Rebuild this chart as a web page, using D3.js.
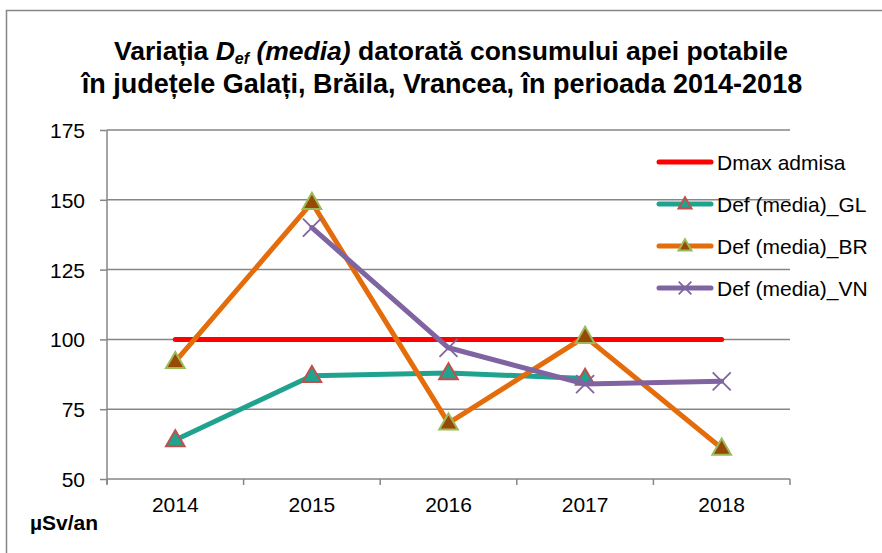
<!DOCTYPE html>
<html><head><meta charset="utf-8">
<script src="https://cdn.jsdelivr.net/npm/d3@7"></script>
<style>body{margin:0;background:#fff;} svg{display:block;font-family:"Liberation Sans",Arial,sans-serif;}</style>
</head><body>
<script>
const years = ["2014","2015","2016","2017","2018"];
const yTicks = [50,75,100,125,150,175];
const dmax = [100,100,100,100,100];
const defGL = [64,87,88,86,null];
const defBR = [92,149,70,101,61];
const defVN = [null,140,97,84,85];
const seriesNames = ["Dmax admisa","Def (media)_GL","Def (media)_BR","Def (media)_VN"];

(function(){
const W=882,H=553;
const svg=d3.select("body").append("svg").attr("width",W).attr("height",H);
// chart border
svg.append("path").attr("d","M6.5,553 V10.5 H882").attr("fill","none").attr("stroke","#868686").attr("stroke-width",1.5);

const pL=107,pR=790,pT=130,pB=479;
const x=d3.scaleBand().domain(years).range([pL,pR]);
const y=d3.scaleLinear().domain([50,175]).range([pB,pT]);
const cx=d=>x(d)+x.bandwidth()/2;

// gridlines
svg.append("g").selectAll("line").data(yTicks.filter(t=>t>50)).join("line")
 .attr("x1",pL).attr("x2",pR).attr("y1",d=>y(d)).attr("y2",d=>y(d))
 .attr("stroke","#868686").attr("stroke-width",1.5);

// y axis
const ya=svg.append("g").attr("transform",`translate(${pL},0)`)
 .call(d3.axisLeft(y).tickValues(yTicks).tickSize(7).tickPadding(15));
ya.select(".domain").attr("stroke","#868686").attr("stroke-width",1.5).attr("d",`M0,${pT}V${pB+5}`);
ya.selectAll(".tick line").attr("stroke","#868686").attr("stroke-width",1.5);
ya.selectAll(".tick text").attr("font-size",21).attr("fill","#000").attr("font-family","Liberation Sans, Arial").attr("dy","0.36em");

// x axis
const xa=svg.append("g").attr("transform",`translate(0,${pB})`);
xa.append("line").attr("x1",pL).attr("x2",pR).attr("stroke","#868686").attr("stroke-width",1.5);
const edges=years.map(d=>x(d)).concat([pR]);
xa.selectAll("line.tk").data(edges).join("line").attr("class","tk")
 .attr("x1",d=>d).attr("x2",d=>d).attr("y1",0).attr("y2",6).attr("stroke","#868686").attr("stroke-width",1.5);
xa.selectAll("text").data(years).join("text").attr("x",d=>cx(d)).attr("y",33)
 .attr("text-anchor","middle").attr("font-size",21).text(d=>d);

// unit label
svg.append("text").attr("x",30).attr("y",530).attr("font-size",21).attr("font-weight","bold").text("µSv/an");

// series
const line=d3.line().defined(d=>d.v!=null).x(d=>cx(d.yr)).y(d=>y(d.v));
const mk=arr=>years.map((yr,i)=>({yr,v:arr[i]}));
const series=[
 {name:seriesNames[0],data:dmax,color:"#ff0000",marker:null},
 {name:seriesNames[1],data:defGL,color:"#1fa38f",marker:"tri",fill:"#1fa38f",stroke:"#c0504d"},
 {name:seriesNames[2],data:defBR,color:"#e46c0a",marker:"tri",fill:"#984807",stroke:"#9bbb59"},
 {name:seriesNames[3],data:defVN,color:"#8064a2",marker:"x"}
];
function drawMarker(g,s,px,py,scale){
  if(s.marker==="tri"){
    g.append("path").attr("d",d3.symbol().type(d3.symbolTriangle).size(150*scale*scale)())
     .attr("transform",`translate(${px},${py+1*scale})`).attr("fill",s.fill).attr("stroke",s.stroke).attr("stroke-width",2);
  } else if(s.marker==="x"){
    const r=9*scale;
    g.append("path").attr("d",`M${px-r},${py-r}L${px+r},${py+r}M${px-r},${py+r}L${px+r},${py-r}`)
     .attr("stroke",s.color).attr("stroke-width",1.8).attr("fill","none");
  }
}
series.forEach(s=>{
  const g=svg.append("g");
  g.append("path").datum(mk(s.data)).attr("d",line).attr("fill","none").attr("stroke",s.color)
   .attr("stroke-width",5).attr("stroke-linecap","round").attr("stroke-linejoin","round");
  mk(s.data).filter(d=>d.v!=null).forEach(d=>drawMarker(g,s,cx(d.yr),y(d.v),1));
});

// legend
const lg=svg.append("g");
series.forEach((s,i)=>{
  const ly=162+i*42;
  lg.append("line").attr("x1",659).attr("x2",711).attr("y1",ly).attr("y2",ly).attr("stroke",s.color).attr("stroke-width",5).attr("stroke-linecap","round");
  drawMarker(lg,s,685,ly,0.7);
  lg.append("text").attr("x",717).attr("y",ly+7.5).attr("font-size",21).text(s.name);
});

// title
const t1=svg.append("text").attr("text-anchor","middle").attr("font-weight","bold").attr("font-size",26.5)
  .attr("x",451).attr("y",60);
t1.append("tspan").text("Variația ");
t1.append("tspan").attr("font-style","italic").text("D");
t1.append("tspan").attr("font-style","italic").attr("font-size",16).attr("dy",4).text("ef");
t1.append("tspan").attr("font-style","italic").attr("dy",-4).text(" (media)");
t1.append("tspan").text(" datorată consumului apei potabile");
svg.append("text").attr("text-anchor","middle").attr("font-weight","bold").attr("font-size",27)
  .attr("x",442).attr("y",93).text("în județele Galați, Brăila, Vrancea, în perioada 2014-2018");
})();
</script>
</body></html>
